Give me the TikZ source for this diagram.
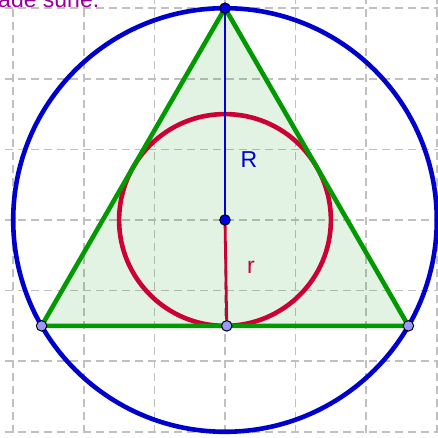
\documentclass[tikz,border=0pt]{standalone}
\usepackage{fontspec}
\setmainfont{Liberation Sans}
\definecolor{ggblue}{RGB}{0,0,204}
\definecolor{ggline}{RGB}{0,0,230}
\definecolor{ggred}{RGB}{204,0,51}
\definecolor{gggreen}{RGB}{0,153,0}
\definecolor{ggpurple}{RGB}{153,0,153}
\definecolor{gggrid}{RGB}{192,192,192}
\definecolor{ggpoint}{RGB}{153,153,255}
\tikzset{
  gridline/.style={gggrid,line width=1.5pt,dash pattern=on 8pt off 5pt},
  bigcircle/.style={ggblue,line width=4.6pt},
  smallcircle/.style={ggred,line width=4.6pt},
  triside/.style={gggreen,line width=4.6pt,line join=miter},
  bigradius/.style={ggline,line width=2.3pt},
  smallradius/.style={ggred,line width=2.8pt},
  darkpt/.style={circle,draw=black,line width=1pt,fill=ggline,inner sep=0pt,minimum size=10.5pt},
  lightpt/.style={circle,draw=black,line width=1pt,fill=ggpoint,inner sep=0pt,minimum size=10.5pt},
  lbl/.style={inner sep=0pt,font=\fontsize{23}{27}\selectfont}
}
\begin{document}
\begin{tikzpicture}[x=70.6pt,y=70.6pt]
\useasboundingbox (-3.187,-3.074) rectangle (3.017,3.116);
\clip (-3.187,-3.074) rectangle (3.017,3.116);
\fill[white] (-3.187,-3.074) rectangle (3.017,3.116);
% grid
\foreach \k in {-3,...,3} {
  \draw[gridline] (\k,-3.2) -- (\k,3.2);
  \draw[gridline] (-3.3,\k) -- (3.1,\k);
}
% points
\coordinate (A) at (0,3);
\coordinate (B) at (-2.598,-1.5);
\coordinate (C) at (2.598,-1.5);
\coordinate (O) at (0,0);
\coordinate (D) at (0.025,-1.5);
% triangle fill
\fill[gggreen,fill opacity=0.11] (A) -- (B) -- (C) -- cycle;
% circles
\draw[bigcircle] (O) circle (3);
\draw[smallcircle] (O) circle (1.5);
% triangle
\draw[triside] (A) -- (B) -- (C) -- cycle;
% radii
\draw[bigradius] (O) -- (A);
\draw[smallradius] (O) -- (D);
% labels
\node[lbl,ggblue,anchor=base west] (Rl) at (0.22,0.745) {R};
\node[lbl,ggred,anchor=base west] (rl) at (0.31,-0.765) {r};
\node[lbl,ggpurple,anchor=base west] (title) at (-3.215,3.01) {ade suhe.};
% point markers
\node[darkpt] (pA) at (A) {};
\node[darkpt] (pO) at (O) {};
\node[lightpt] (pB) at (B) {};
\node[lightpt] (pC) at (C) {};
\node[lightpt] (pD) at (D) {};
\end{tikzpicture}
\end{document}
